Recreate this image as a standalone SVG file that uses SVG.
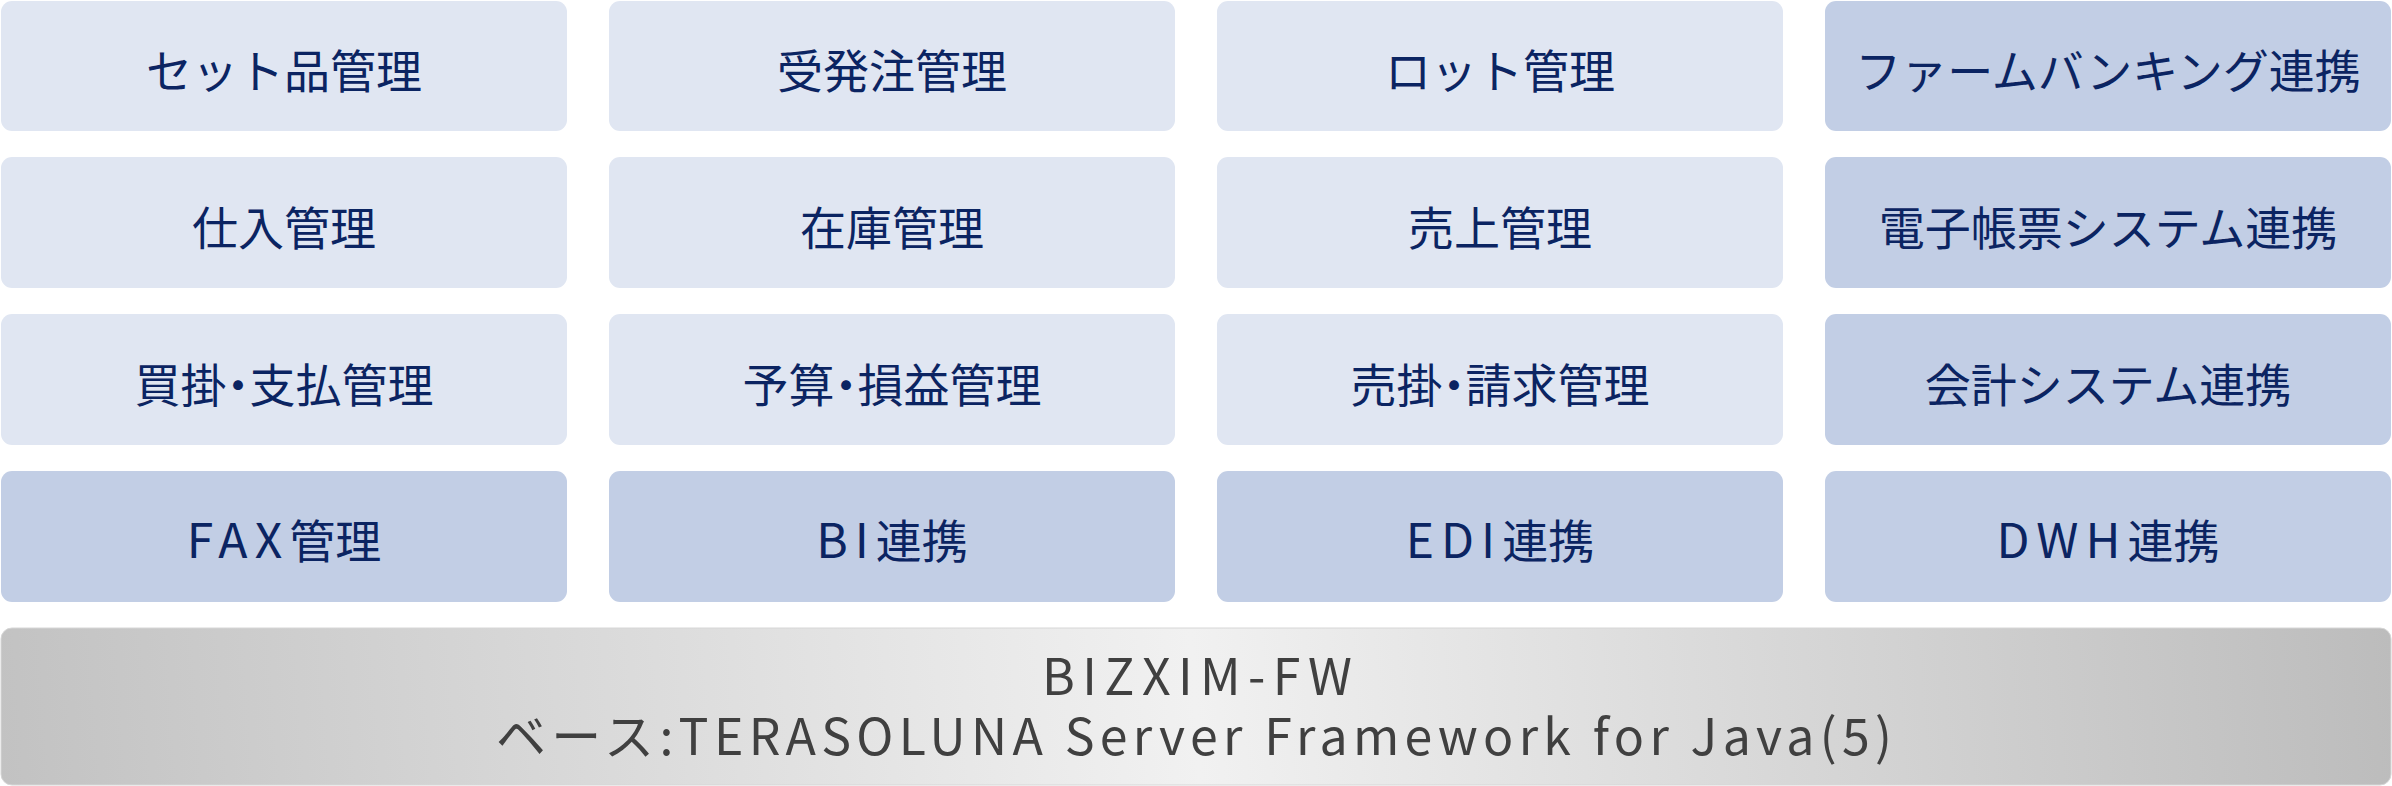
<svg xmlns="http://www.w3.org/2000/svg" width="2392" height="786" viewBox="0 0 2392 786">
<style>
.lt{fill:#E0E6F2;}
.dk{fill:#C2CEE5;}
.lbl{font-family:"Noto Sans CJK JP","Noto Sans",sans-serif;font-size:46px;fill:#0B2462;text-anchor:middle;}
.pt{font-feature-settings:"palt";}
.lat{font-size:48px;letter-spacing:7px;}
.base{font-family:"Noto Sans CJK JP","Noto Sans",sans-serif;font-size:50px;fill:#404040;text-anchor:middle;}
</style>
<defs>
<linearGradient id="g" gradientUnits="userSpaceOnUse" x1="0" y1="786" x2="2392" y2="628">
<stop offset="0" stop-color="#C2C2C2"/>
<stop offset="0.5" stop-color="#F1F1F1"/>
<stop offset="1" stop-color="#BCBCBC"/>
</linearGradient>
</defs>
<rect width="2392" height="786" fill="#FFFFFF"/>

<g id="n-set"><rect class="lt" x="1" y="1" width="566" height="130" rx="11"/><text class="lbl" x="284" y="88">セット品管理</text></g>
<g id="n-juhacchu"><rect class="lt" x="609" y="1" width="566" height="130" rx="11"/><text class="lbl" x="892" y="88">受発注管理</text></g>
<g id="n-lot"><rect class="lt" x="1217" y="1" width="566" height="130" rx="11"/><text class="lbl" x="1500" y="88">ロット管理</text></g>
<g id="n-firm"><rect class="dk" x="1825" y="1" width="566" height="130" rx="11"/><text class="lbl" x="2108" y="88">ファームバンキング連携</text></g>

<g id="n-shiire"><rect class="lt" x="1" y="157" width="566" height="131" rx="11"/><text class="lbl" x="284" y="245">仕入管理</text></g>
<g id="n-zaiko"><rect class="lt" x="609" y="157" width="566" height="131" rx="11"/><text class="lbl" x="892" y="245">在庫管理</text></g>
<g id="n-uriage"><rect class="lt" x="1217" y="157" width="566" height="131" rx="11"/><text class="lbl" x="1500" y="245">売上管理</text></g>
<g id="n-denshi"><rect class="dk" x="1825" y="157" width="566" height="131" rx="11"/><text class="lbl" x="2108" y="245">電子帳票システム連携</text></g>

<g id="n-kaikake"><rect class="lt" x="1" y="314" width="566" height="131" rx="11"/><text class="lbl pt" x="284" y="402">買掛・支払管理</text></g>
<g id="n-yosan"><rect class="lt" x="609" y="314" width="566" height="131" rx="11"/><text class="lbl pt" x="892" y="402">予算・損益管理</text></g>
<g id="n-urikake"><rect class="lt" x="1217" y="314" width="566" height="131" rx="11"/><text class="lbl pt" x="1500" y="402">売掛・請求管理</text></g>
<g id="n-kaikei"><rect class="dk" x="1825" y="314" width="566" height="131" rx="11"/><text class="lbl" x="2108" y="402">会計システム連携</text></g>

<g id="n-fax"><rect class="dk" x="1" y="471" width="566" height="131" rx="11"/><text class="lbl" x="284" y="558"><tspan class="lat">FAX</tspan>管理</text></g>
<g id="n-bi"><rect class="dk" x="609" y="471" width="566" height="131" rx="11"/><text class="lbl" x="892" y="558"><tspan class="lat">BI</tspan>連携</text></g>
<g id="n-edi"><rect class="dk" x="1217" y="471" width="566" height="131" rx="11"/><text class="lbl" x="1500" y="558"><tspan class="lat">EDI</tspan>連携</text></g>
<g id="n-dwh"><rect class="dk" x="1825" y="471" width="566" height="131" rx="11"/><text class="lbl" x="2108" y="558"><tspan class="lat">DWH</tspan>連携</text></g>

<g id="n-base">
<rect x="1" y="628" width="2390" height="157" rx="11" fill="url(#g)" stroke="#D6D6D6" stroke-width="1"/>
<text class="base" x="1197" y="695" textLength="310" lengthAdjust="spacing">BIZXIM-FW</text>
<text class="base" x="1194" y="755" textLength="1396" lengthAdjust="spacing">ベース:TERASOLUNA Server Framework for Java(5)</text>
</g>
<g id="connectors"></g>
</svg>
